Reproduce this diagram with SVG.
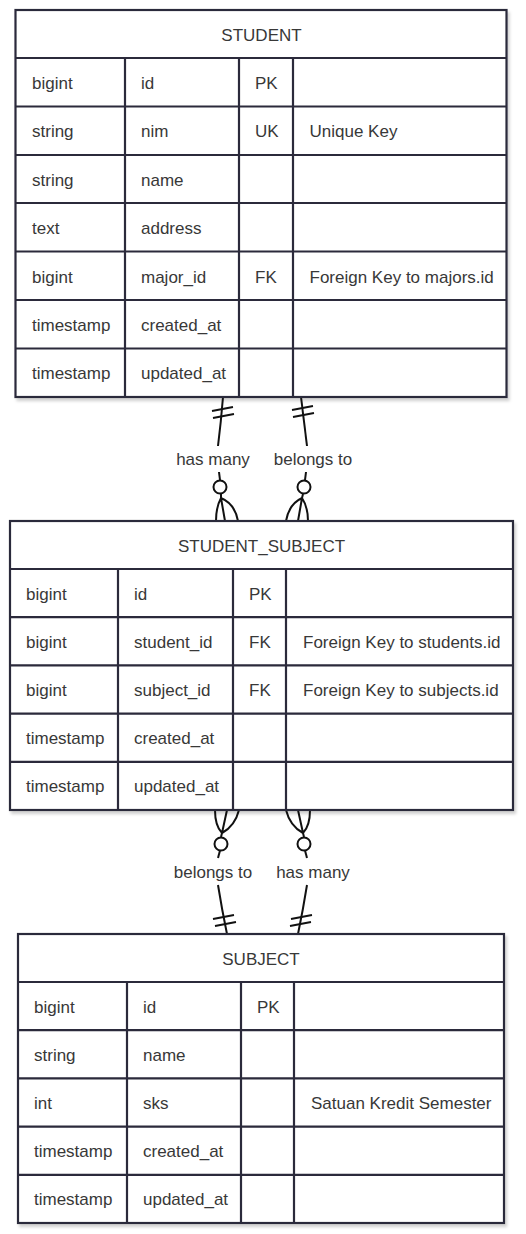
<svg xmlns="http://www.w3.org/2000/svg" width="526" height="1234" viewBox="0 0 526 1234">
<style>
.box{fill:#fff;stroke:#2b2a3b;stroke-width:2.2;}
.ln{stroke:#2b2a3b;stroke-width:2.2;fill:none;}
.t{font-family:"Liberation Sans",Arial,sans-serif;font-size:17px;fill:#383838;}
.c{text-anchor:middle;}
.e{stroke:#111;stroke-width:2;fill:none;}
.o{stroke:#111;stroke-width:2;fill:#fff;}
</style>
<defs>
<filter id="sh" x="-5%" y="-5%" width="110%" height="110%">
<feDropShadow dx="2" dy="3" stdDeviation="1.5" flood-color="#000" flood-opacity="0.18"/>
</filter>
</defs>
<rect width="526" height="1234" fill="#fff"/>

<g id="connectors">
<!-- STUDENT -> STUDENT_SUBJECT : has many -->
<g id="c1">
<path class="e" d="M223,397 Q221,422 218,446"/>
<path class="e" d="M212,411 L233,407 M213,418 L234,414"/>
<path class="e" d="M219,472 L220,480"/>
<circle class="o" cx="220" cy="487" r="6.5"/>
<path class="e" d="M221,494 L221,498 M221,498 Q216,507 216,521 M221,498 L225,521 M221,498 Q235,504 238,521"/>
<text class="t c" x="213" y="465">has many</text>
</g>
<!-- STUDENT -> STUDENT_SUBJECT : belongs to -->
<g id="c2">
<path class="e" d="M301,397 Q304,422 307,446"/>
<path class="e" d="M292,410 L313,406 M293,417 L314,413"/>
<path class="e" d="M306,472 L305,480"/>
<circle class="o" cx="304" cy="487" r="6.5"/>
<path class="e" d="M303,494 L302,498 M302,498 Q289,504 286,521 M302,498 L298,521 M302,498 Q308,507 308,521"/>
<text class="t c" x="313" y="465">belongs to</text>
</g>
<!-- STUDENT_SUBJECT -> SUBJECT : belongs to -->
<g id="c3">
<path class="e" d="M215,810 Q215,826 222,833 M227,810 L222,833 M239,810 Q235,826 222,833 M222,833 L221,837"/>
<circle class="o" cx="221" cy="844" r="6.5"/>
<path class="e" d="M220,850.5 L218,858"/>
<path class="e" d="M218,885 Q222,910 227,934"/>
<path class="e" d="M213,919 L234,915 M215,926 L236,922"/>
<text class="t c" x="213" y="878">belongs to</text>
</g>
<!-- STUDENT_SUBJECT -> SUBJECT : has many -->
<g id="c4">
<path class="e" d="M286,810 Q290,826 303,833 M298,810 L303,833 M310,810 Q310,826 303,833 M303,833 L304,837"/>
<circle class="o" cx="304" cy="844" r="6.5"/>
<path class="e" d="M305,850.5 L307,858"/>
<path class="e" d="M307,885 Q303,910 298,934"/>
<path class="e" d="M291,919 L312,915 M290,926 L311,922"/>
<text class="t c" x="313" y="878">has many</text>
</g>
</g>

<g id="student">
<rect class="box" x="15.5" y="10" width="491" height="387" filter="url(#sh)"/>
<path class="ln" d="M15.5,58 H506.5 M15.5,106.5 H506.5 M15.5,155 H506.5 M15.5,203 H506.5 M15.5,251.5 H506.5 M15.5,300 H506.5 M15.5,348.5 H506.5 M125,58 V397 M239,58 V397 M293,58 V397"/>
<text class="t c" x="261.5" y="40.5">STUDENT</text>
<text class="t" x="32" y="88.7">bigint</text><text class="t" x="141" y="88.7">id</text><text class="t" x="255" y="88.7">PK</text>
<text class="t" x="32" y="137.1">string</text><text class="t" x="141" y="137.1">nim</text><text class="t" x="255" y="137.1">UK</text><text class="t" x="309.5" y="137.1">Unique Key</text>
<text class="t" x="32" y="185.6">string</text><text class="t" x="141" y="185.6">name</text>
<text class="t" x="32" y="234">text</text><text class="t" x="141" y="234">address</text>
<text class="t" x="32" y="282.5">bigint</text><text class="t" x="141" y="282.5">major_id</text><text class="t" x="255" y="282.5">FK</text><text class="t" x="309.5" y="282.5">Foreign Key to majors.id</text>
<text class="t" x="32" y="330.9">timestamp</text><text class="t" x="141" y="330.9">created_at</text>
<text class="t" x="32" y="379.3">timestamp</text><text class="t" x="141" y="379.3">updated_at</text>
</g>

<g id="student_subject">
<rect class="box" x="10" y="521" width="503" height="289" filter="url(#sh)"/>
<path class="ln" d="M10,569 H513 M10,617.2 H513 M10,665.4 H513 M10,713.6 H513 M10,761.8 H513 M118,569 V810 M233,569 V810 M286,569 V810"/>
<text class="t c" x="261.5" y="551.5">STUDENT_SUBJECT</text>
<text class="t" x="26" y="599.6">bigint</text><text class="t" x="134" y="599.6">id</text><text class="t" x="249" y="599.6">PK</text>
<text class="t" x="26" y="647.8">bigint</text><text class="t" x="134" y="647.8">student_id</text><text class="t" x="249" y="647.8">FK</text><text class="t" x="303" y="647.8">Foreign Key to students.id</text>
<text class="t" x="26" y="696">bigint</text><text class="t" x="134" y="696">subject_id</text><text class="t" x="249" y="696">FK</text><text class="t" x="303" y="696">Foreign Key to subjects.id</text>
<text class="t" x="26" y="744.2">timestamp</text><text class="t" x="134" y="744.2">created_at</text>
<text class="t" x="26" y="792.4">timestamp</text><text class="t" x="134" y="792.4">updated_at</text>
</g>

<g id="subject">
<rect class="box" x="18" y="934" width="486" height="289" filter="url(#sh)"/>
<path class="ln" d="M18,982 H504 M18,1030.2 H504 M18,1078.4 H504 M18,1126.6 H504 M18,1174.8 H504 M127,982 V1223 M241,982 V1223 M294,982 V1223"/>
<text class="t c" x="261" y="964.5">SUBJECT</text>
<text class="t" x="34" y="1012.6">bigint</text><text class="t" x="143" y="1012.6">id</text><text class="t" x="257" y="1012.6">PK</text>
<text class="t" x="34" y="1060.8">string</text><text class="t" x="143" y="1060.8">name</text>
<text class="t" x="34" y="1109">int</text><text class="t" x="143" y="1109">sks</text><text class="t" x="311" y="1109">Satuan Kredit Semester</text>
<text class="t" x="34" y="1157.2">timestamp</text><text class="t" x="143" y="1157.2">created_at</text>
<text class="t" x="34" y="1205.4">timestamp</text><text class="t" x="143" y="1205.4">updated_at</text>
</g>
</svg>
